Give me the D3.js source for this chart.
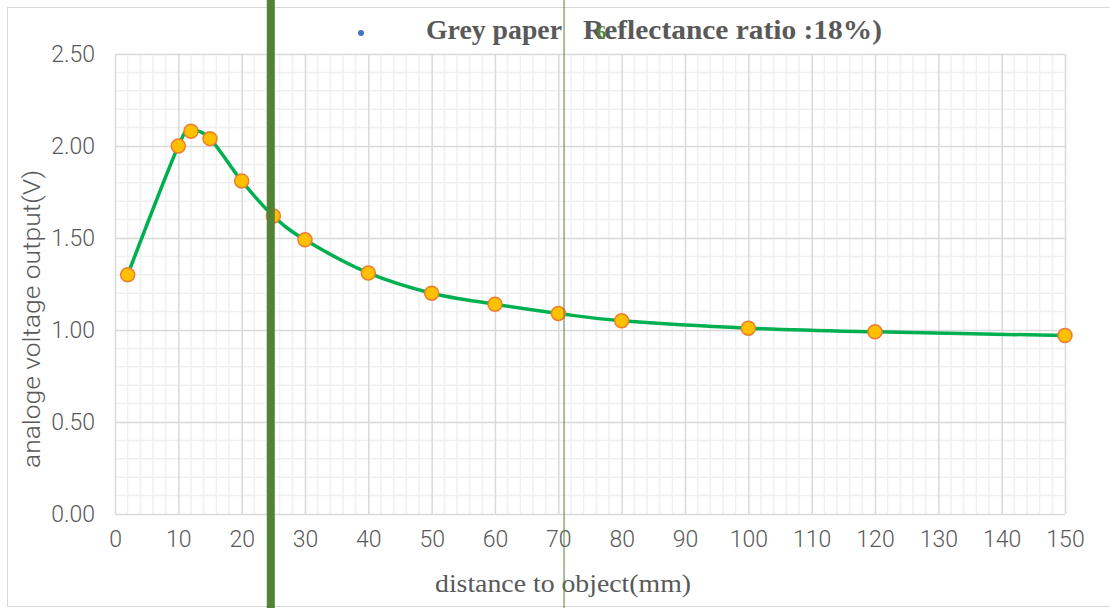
<!DOCTYPE html>
<html>
<head>
<meta charset="utf-8">
<script src="https://cdn.jsdelivr.net/npm/d3@7"></script>
<style>
  body { margin: 0; background: #fff; }
  .tick text { font-family: Roboto, "Noto Sans", sans-serif; font-weight: 300; fill: #595959; }
</style>
</head>
<body>
<svg width="1110" height="608"></svg>
<script>
// distance (mm) and voltage (V)
const distance = [2, 10, 12, 15, 20, 25, 30, 40, 50, 60, 70, 80, 100, 120, 150];
const voltage = [1.30, 2.00, 2.08, 2.04, 1.81, 1.62, 1.49, 1.31, 1.20, 1.14, 1.09, 1.05, 1.01, 0.99, 0.97];
const xTicks = d3.range(0, 151, 10);
const yTicks = [0, 0.5, 1, 1.5, 2, 2.5];
const guideLines = [24.6, 70.9]; // the two green vertical rules

const svg = d3.select("svg"),
    margin = {top: 54, right: 45, bottom: 94, left: 115},
    width = +svg.attr("width") - margin.left - margin.right,
    height = +svg.attr("height") - margin.top - margin.bottom;

const x = d3.scaleLinear().domain([0, 150]).range([0, width]),
    y = d3.scaleLinear().domain([0, 2.5]).range([height, 0]);

// chart frame
svg.append("rect")
    .attr("x", 7.5).attr("y", 7.5)
    .attr("width", 1120).attr("height", 599)
    .attr("fill", "none")
    .attr("stroke", "#d9d9d9");

const g = svg.append("g")
    .attr("transform", `translate(${margin.left},${margin.top})`);

// minor grid
g.append("g").selectAll("line")
    .data(d3.range(0, 151, 2).filter(v => v % 10 !== 0))
    .enter().append("line")
    .attr("x1", d => x(d)).attr("x2", d => x(d))
    .attr("y1", 0).attr("y2", height)
    .attr("stroke", "#f0f0f0").attr("stroke-width", 1.5);
g.append("g").selectAll("line")
    .data(d3.range(1, 25).filter(v => v % 5 !== 0).map(v => v / 10))
    .enter().append("line")
    .attr("x1", 0).attr("x2", width)
    .attr("y1", d => y(d)).attr("y2", d => y(d))
    .attr("stroke", "#f0f0f0").attr("stroke-width", 1.5);

// major grid
g.append("g")
    .call(d3.axisBottom(x).tickValues(xTicks).tickSize(-height).tickFormat(""))
    .attr("transform", `translate(0,${height})`)
    .call(a => a.select(".domain").remove())
    .call(a => a.selectAll("line").attr("stroke", "#d9d9d9").attr("stroke-width", 1.5));
g.append("g")
    .call(d3.axisLeft(y).tickValues(yTicks).tickSize(-width).tickFormat(""))
    .call(a => a.select(".domain").remove())
    .call(a => a.selectAll("line").attr("stroke", "#d9d9d9").attr("stroke-width", 1.5));

// tick labels
g.append("g")
    .attr("transform", `translate(0,${height})`)
    .call(d3.axisBottom(x).tickValues(xTicks).tickSize(0).tickPadding(17))
    .call(a => a.select(".domain").remove())
    .selectAll("text").style("font-size", "23px");
g.append("g")
    .call(d3.axisLeft(y).tickValues(yTicks).tickSize(0).tickPadding(20).tickFormat(d3.format(".2f")))
    .call(a => a.select(".domain").remove())
    .selectAll("text").style("font-size", "23px");

// axis titles
svg.append("text")
    .attr("transform", "rotate(-90)")
    .attr("x", -319)
    .attr("y", 40)
    .attr("text-anchor", "middle")
    .attr("textLength", 298)
    .attr("lengthAdjust", "spacingAndGlyphs")
    .style("font-family", "Roboto, sans-serif")
    .style("font-weight", "300")
    .style("font-size", "24px")
    .attr("fill", "#595959")
    .text("analoge voltage output(V)");

svg.append("text")
    .attr("x", 563)
    .attr("y", 592)
    .attr("text-anchor", "middle")
    .attr("textLength", 256)
    .attr("lengthAdjust", "spacingAndGlyphs")
    .style("font-family", "'Liberation Serif', serif")
    .style("font-size", "26px")
    .attr("fill", "#595959")
    .text("distance to object(mm)");

// legend / title row
svg.append("circle")
    .attr("cx", 361).attr("cy", 33).attr("r", 3)
    .attr("fill", "#4472c4");
svg.append("text")
    .attr("x", 426).attr("y", 39)
    .attr("textLength", 136)
    .attr("lengthAdjust", "spacingAndGlyphs")
    .style("font-family", "'Liberation Serif', serif")
    .style("font-weight", "bold")
    .style("font-size", "28px")
    .attr("fill", "#595959")
    .text("Grey paper");
svg.append("text")
    .attr("x", 583).attr("y", 39)
    .attr("textLength", 299)
    .attr("lengthAdjust", "spacingAndGlyphs")
    .style("font-family", "'Liberation Serif', serif")
    .style("font-weight", "bold")
    .style("font-size", "28px")
    .attr("fill", "#595959")
    .text("Reflectance ratio :18%)");
svg.append("text")
    .attr("x", 597).attr("y", 39)
    .style("font-family", "'Liberation Serif', serif")
    .style("font-weight", "bold")
    .style("font-size", "18px")
    .attr("fill", "#548235")
    .text("6");

// data line
const pts = distance.map((d, i) => [d, voltage[i]]);
g.append("path")
    .datum(pts)
    .attr("fill", "none")
    .attr("stroke", "#00b050")
    .attr("stroke-width", 3.5)
    .attr("d", d3.line().x(d => x(d[0])).y(d => y(d[1])).curve(d3.curveCardinal.tension(0)));

g.selectAll(".dot")
    .data(pts)
    .enter().append("circle")
    .attr("class", "dot")
    .attr("cx", d => x(d[0]))
    .attr("cy", d => y(d[1]))
    .attr("r", 7)
    .attr("fill", "#ffc000")
    .attr("stroke", "#ed7d31")
    .attr("stroke-width", 1.5);

// vertical green rules
svg.selectAll(".rule")
    .data(guideLines)
    .enter().append("line")
    .attr("class", "rule")
    .attr("x1", d => margin.left + x(d)).attr("x2", d => margin.left + x(d))
    .attr("y1", 0).attr("y2", 608)
    .attr("stroke", "#548235")
    .attr("stroke-width", (d, i) => i === 0 ? 8 : 1);
</script>
</body>
</html>
